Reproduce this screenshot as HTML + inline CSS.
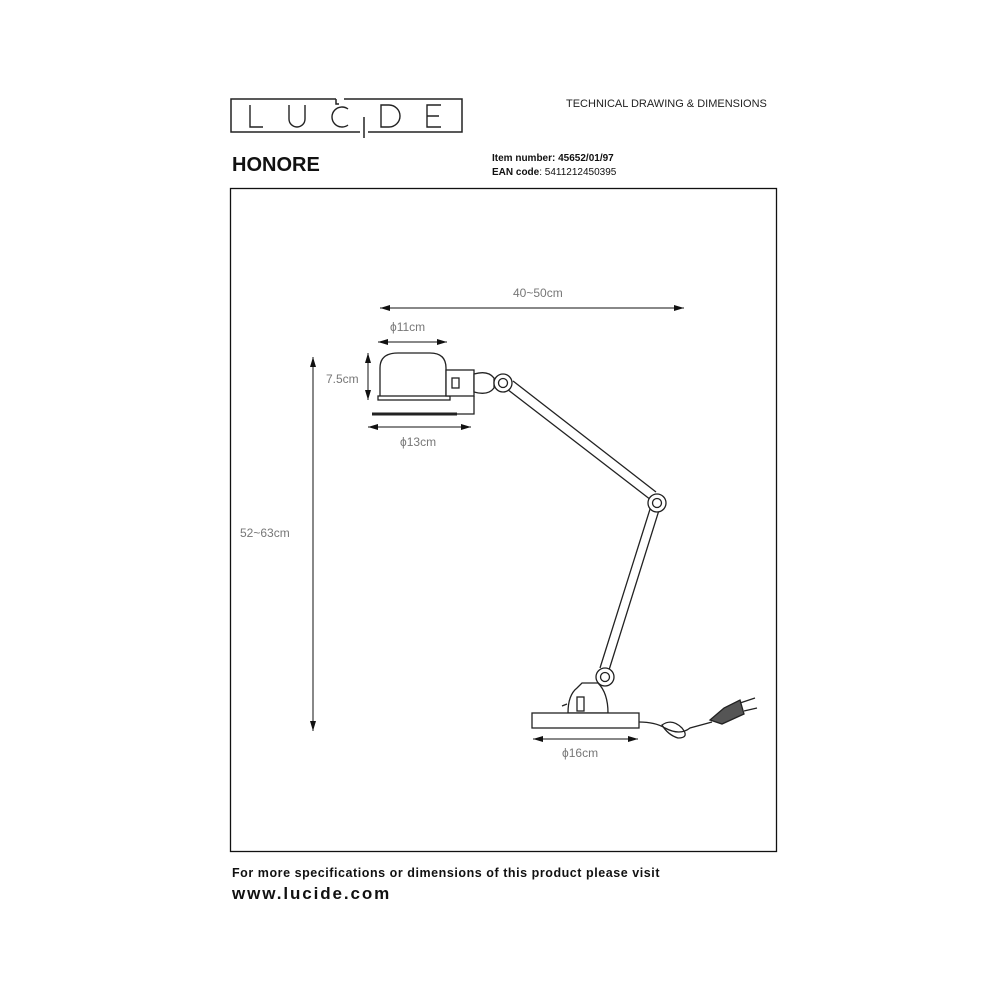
<!DOCTYPE html>
<html><head><style>
body{margin:0;background:#fff;}
svg{display:block;}
</style></head><body>
<svg width="1000" height="1000" viewBox="0 0 1000 1000" xmlns="http://www.w3.org/2000/svg" font-family="Liberation Sans, sans-serif">
<defs>
<marker id="a" viewBox="0 0 10 6" refX="10" refY="3" markerWidth="10" markerHeight="6" orient="auto-start-reverse" markerUnits="userSpaceOnUse"><path d="M0,0 L10,3 L0,6 Z" fill="#111"/></marker>
</defs>
<g fill="none" stroke="#222" stroke-width="1.5">
<path d="M336,99 H231 V132 H360"/>
<path d="M344,99 H462 V132 H368"/>
<path d="M336,99 V104 H339"/>
<path d="M364,117 V138"/>
</g>
<g fill="none" stroke="#222" stroke-width="1.4">
<path d="M250,105 V127 H263"/>
<path d="M289,105 V119 A8,8 0 0 0 305,119 V105"/>
<path d="M348,109 A10,10 0 1 0 348,125"/>
<path d="M381,105 V127 H389 A11,11 0 0 0 389,105 Z"/>
<path d="M441,105 H427 V127 H441 M427,116 H439"/>
</g>
<text x="566" y="107" font-size="11" fill="#222">TECHNICAL DRAWING &amp; DIMENSIONS</text>
<text x="232" y="171" font-size="20" font-weight="bold" fill="#111">HONORE</text>
<text x="492" y="161" font-size="10" fill="#111"><tspan font-weight="bold">Item number: 45652/01/97</tspan></text>
<text x="492" y="175" font-size="10" fill="#111"><tspan font-weight="bold">EAN code</tspan>: 5411212450395</text>
<rect x="230.5" y="188.5" width="546" height="663" fill="none" stroke="#111" stroke-width="1.3"/>
<g stroke="#111" stroke-width="1" fill="none">
<line x1="380" y1="308" x2="684" y2="308" marker-start="url(#a)" marker-end="url(#a)"/>
<line x1="378" y1="342" x2="447" y2="342" marker-start="url(#a)" marker-end="url(#a)"/>
<line x1="368" y1="353" x2="368" y2="400" marker-start="url(#a)" marker-end="url(#a)"/>
<line x1="368" y1="427" x2="471" y2="427" marker-start="url(#a)" marker-end="url(#a)"/>
<line x1="313" y1="357" x2="313" y2="731" marker-start="url(#a)" marker-end="url(#a)"/>
<line x1="533" y1="739" x2="638" y2="739" marker-start="url(#a)" marker-end="url(#a)"/>
</g>
<g fill="#777" font-size="12">
<text x="513" y="297">40~50cm</text>
<text x="390" y="331">ϕ11cm</text>
<text x="326" y="383">7.5cm</text>
<text x="400" y="446">ϕ13cm</text>
<text x="240" y="537">52~63cm</text>
<text x="562" y="757">ϕ16cm</text>
</g>
<g stroke="#222" stroke-width="1.3" fill="#fff">
<path d="M380,397 V368 Q380,353 398,353 H430 Q446,353 446,368 V397"/>
<rect x="378" y="396" width="72" height="4"/>
<rect x="446" y="370" width="28" height="26"/>
<rect x="452" y="378" width="7" height="10"/>
<path d="M474,374 Q488,370 494,378 L494,388 Q488,396 474,392 Z"/>
<line x1="372" y1="414" x2="457" y2="414" stroke-width="3"/>
<path d="M457,414 H474 V396" fill="none"/>
<path d="M507,389 L651,500 M513,381 L656,492" fill="none"/>
<path d="M651,506 L600,668 M660,507 L609,670" fill="none"/>
<circle cx="503" cy="383" r="9"/><circle cx="503" cy="383" r="4.5"/>
<circle cx="657" cy="503" r="9"/><circle cx="657" cy="503" r="4.5"/>
<circle cx="605" cy="677" r="9"/><circle cx="605" cy="677" r="4.5"/>
<path d="M568,713 Q568,695 577,688 L582,683 L598,683 Q608,693 608,713 Z"/>
<rect x="577" y="697" width="7" height="14"/>
<line x1="562" y1="706" x2="567" y2="704"/>
<rect x="532" y="713" width="107" height="15"/>
<path d="M639,722 Q655,722 665,728 Q680,736 690,728 L712,722" fill="none"/>
<path d="M662,725 Q672,718 682,728 Q690,738 678,738 Q668,735 662,725 Z" fill="none"/>
<path d="M710,720 L724,708 L740,700 L744,714 L722,724 Z" fill="#555"/>
<line x1="740" y1="703" x2="755" y2="698"/>
<line x1="744" y1="711" x2="757" y2="708"/>
</g>
<text x="232" y="877" font-size="12.5" font-weight="bold" fill="#111" letter-spacing="0.55">For more specifications or dimensions of this product please visit</text>
<text x="232" y="899" font-size="17" font-weight="bold" fill="#111" letter-spacing="1.9">www.lucide.com</text>
</svg>
</body></html>
